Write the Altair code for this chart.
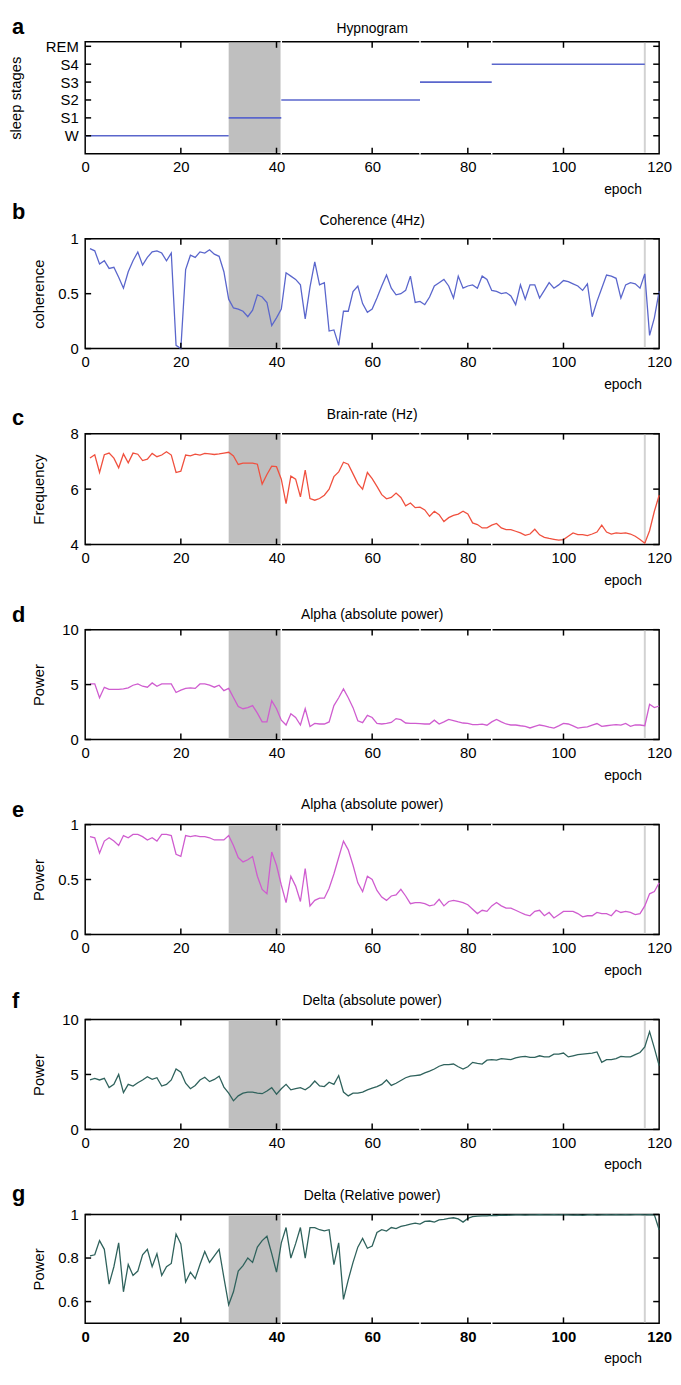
import json
import altair as alt
import pandas as pd

# ---------------- data ----------------
EPOCHS = list(range(1, 121))
X_TICKS = [0, 20, 40, 60, 80, 100, 120]

STAGE_NAMES = ["W", "S1", "S2", "S3", "S4", "REM"]
HYP_STAGE = ["W", "S1", "S2", "S3", "S4"]
HYP_START = [0, 30, 41, 70, 85]
HYP_END = [30, 41, 70, 85, 117]

BAND_START = [30]
BAND_END = [41]
STAGE_BREAKS = [41, 70, 85]
RECORD_END = [117]

coherence = [0.91, 0.89, 0.77, 0.80, 0.73, 0.74, 0.65, 0.55, 0.70, 0.80,
             0.88, 0.76, 0.83, 0.88, 0.89, 0.87, 0.80, 0.87, 0.03, 0.00,
             0.72, 0.85, 0.83, 0.88, 0.87, 0.90, 0.86, 0.84, 0.70, 0.45,
             0.37, 0.36, 0.34, 0.29, 0.35, 0.49, 0.47, 0.42, 0.21, 0.28,
             0.36, 0.69, 0.66, 0.63, 0.58, 0.27, 0.56, 0.79, 0.58, 0.60,
             0.16, 0.17, 0.03, 0.34, 0.34, 0.52, 0.57, 0.41, 0.33, 0.36,
             0.46, 0.57, 0.67, 0.55, 0.49, 0.50, 0.53, 0.66, 0.42, 0.43,
             0.40, 0.47, 0.57, 0.60, 0.63, 0.57, 0.46, 0.66, 0.55, 0.57,
             0.58, 0.55, 0.66, 0.63, 0.53, 0.52, 0.50, 0.51, 0.48, 0.40,
             0.58, 0.45, 0.58, 0.58, 0.46, 0.53, 0.60, 0.55, 0.58, 0.62,
             0.61, 0.59, 0.57, 0.53, 0.59, 0.29, 0.43, 0.55, 0.67, 0.66,
             0.64, 0.46, 0.58, 0.60, 0.59, 0.55, 0.68, 0.12, 0.28, 0.52]

brain_rate = [7.12, 7.24, 6.60, 7.24, 7.30, 7.12, 6.77, 7.27, 6.95, 7.30,
              7.26, 7.03, 7.08, 7.29, 7.17, 7.23, 7.35, 7.23, 6.60, 6.65,
              7.23, 7.20, 7.26, 7.23, 7.29, 7.27, 7.25, 7.27, 7.30, 7.33,
              7.20, 6.89, 6.94, 6.94, 6.94, 6.90, 6.18, 6.53, 6.83, 6.81,
              6.36, 5.48, 6.47, 6.36, 5.72, 6.69, 5.66, 5.60, 5.66, 5.78,
              6.00, 6.45, 6.62, 6.97, 6.90, 6.55, 6.20, 6.00, 6.60, 6.38,
              6.10, 5.80, 5.65, 5.70, 5.86, 5.70, 5.40, 5.50, 5.33, 5.35,
              5.25, 5.02, 5.20, 5.08, 4.83, 4.97, 5.05, 5.10, 5.20, 5.10,
              4.78, 4.72, 4.60, 4.60, 4.70, 4.76, 4.60, 4.54, 4.54, 4.48,
              4.42, 4.33, 4.38, 4.55, 4.35, 4.26, 4.22, 4.19, 4.16, 4.18,
              4.30, 4.42, 4.36, 4.36, 4.32, 4.38, 4.45, 4.70, 4.45, 4.38,
              4.42, 4.40, 4.42, 4.38, 4.30, 4.18, 4.05, 4.50, 5.20, 5.78]

alpha_abs = [5.06, 5.06, 3.80, 4.75, 4.56, 4.56, 4.56, 4.60, 4.70, 4.94,
             5.06, 4.85, 4.76, 5.15, 4.85, 5.06, 5.06, 5.06, 4.28, 4.50,
             4.65, 4.70, 4.65, 5.06, 5.06, 4.94, 4.76, 4.94, 4.45, 4.65,
             3.82, 3.00, 2.80, 2.90, 3.09, 2.40, 1.60, 1.60, 3.53, 2.80,
             1.76, 1.32, 2.35, 2.00, 1.32, 2.80, 1.18, 1.47, 1.41, 1.41,
             1.60, 3.09, 3.80, 4.60, 3.80, 2.90, 1.70, 1.53, 2.20, 2.00,
             1.47, 1.41, 1.47, 1.55, 1.90, 1.80, 1.50, 1.47, 1.47, 1.45,
             1.41, 1.41, 1.76, 1.41, 1.60, 1.82, 1.72, 1.60, 1.50, 1.47,
             1.35, 1.35, 1.40, 1.30, 1.60, 1.82, 1.60, 1.41, 1.32, 1.32,
             1.25, 1.20, 1.05, 1.20, 1.32, 1.25, 1.12, 1.03, 1.24, 1.47,
             1.41, 1.24, 1.03, 1.10, 1.15, 1.30, 1.45, 1.20, 1.25, 1.30,
             1.35, 1.30, 1.47, 1.20, 1.32, 1.32, 1.25, 3.20, 2.90, 3.05]

alpha_rel = [0.89, 0.88, 0.74, 0.85, 0.88, 0.85, 0.81, 0.90, 0.88, 0.91,
             0.91, 0.89, 0.86, 0.88, 0.85, 0.91, 0.91, 0.90, 0.73, 0.71,
             0.90, 0.89, 0.90, 0.89, 0.89, 0.88, 0.86, 0.86, 0.86, 0.90,
             0.81, 0.70, 0.66, 0.68, 0.71, 0.53, 0.41, 0.37, 0.75, 0.63,
             0.45, 0.29, 0.53, 0.44, 0.30, 0.60, 0.26, 0.31, 0.33, 0.33,
             0.42, 0.55, 0.70, 0.85, 0.77, 0.63, 0.47, 0.39, 0.53, 0.50,
             0.40, 0.34, 0.31, 0.35, 0.36, 0.41, 0.35, 0.28, 0.29, 0.29,
             0.28, 0.26, 0.27, 0.32, 0.26, 0.30, 0.31, 0.30, 0.29, 0.27,
             0.23, 0.19, 0.22, 0.21, 0.26, 0.29, 0.26, 0.24, 0.24, 0.22,
             0.20, 0.18, 0.17, 0.21, 0.22, 0.17, 0.20, 0.15, 0.18, 0.21,
             0.21, 0.21, 0.19, 0.16, 0.17, 0.17, 0.20, 0.19, 0.19, 0.17,
             0.22, 0.20, 0.21, 0.20, 0.18, 0.19, 0.26, 0.37, 0.39, 0.47]

delta_abs = [4.50, 4.65, 4.50, 4.65, 3.80, 4.10, 5.00, 3.35, 4.10, 3.95,
             4.25, 4.50, 4.80, 4.55, 4.70, 3.95, 4.10, 4.50, 5.50, 5.20,
             4.20, 3.70, 4.00, 4.50, 4.75, 4.35, 4.55, 4.85, 3.85, 3.30,
             2.60, 3.05, 3.30, 3.40, 3.40, 3.30, 3.25, 3.50, 3.80, 3.20,
             3.70, 4.10, 3.60, 3.70, 3.80, 3.60, 3.90, 4.40, 3.95, 3.90,
             4.30, 4.10, 4.90, 3.40, 3.05, 3.30, 3.30, 3.40, 3.60, 3.75,
             3.90, 4.10, 4.50, 4.00, 4.20, 4.45, 4.70, 4.85, 4.90, 4.95,
             5.15, 5.30, 5.50, 5.75, 5.90, 5.90, 5.95, 5.70, 5.50, 5.70,
             6.10, 6.00, 5.95, 6.30, 6.35, 6.30, 6.45, 6.40, 6.35, 6.50,
             6.60, 6.65, 6.55, 6.55, 6.70, 6.60, 6.60, 6.85, 6.85, 6.95,
             6.60, 6.70, 6.80, 6.85, 6.90, 6.95, 7.05, 6.10, 6.35, 6.35,
             6.45, 6.65, 6.60, 6.60, 6.80, 7.00, 7.50, 8.90, 7.40, 5.80]

delta_rel = [0.810, 0.815, 0.880, 0.840, 0.680, 0.760, 0.870, 0.645, 0.770, 0.720,
             0.740, 0.815, 0.840, 0.760, 0.820, 0.720, 0.760, 0.775, 0.910, 0.865,
             0.690, 0.735, 0.705, 0.770, 0.830, 0.780, 0.810, 0.840, 0.710, 0.585,
             0.645, 0.740, 0.765, 0.800, 0.780, 0.850, 0.880, 0.900, 0.820, 0.735,
             0.870, 0.940, 0.800, 0.866, 0.940, 0.800, 0.940, 0.940, 0.930, 0.925,
             0.930, 0.770, 0.870, 0.610, 0.700, 0.780, 0.850, 0.890, 0.845, 0.855,
             0.917, 0.930, 0.924, 0.940, 0.935, 0.945, 0.950, 0.956, 0.960, 0.956,
             0.968, 0.970, 0.965, 0.975, 0.978, 0.982, 0.985, 0.980, 0.965, 0.982,
             0.990, 0.992, 0.994, 0.994, 0.996, 0.995, 0.997, 0.996, 0.997, 0.998,
             0.998, 0.997, 0.998, 0.998, 0.999, 0.998, 0.998, 0.999, 0.998, 0.999,
             0.998, 0.997, 0.998, 0.996, 0.998, 0.999, 0.997, 0.998, 0.999, 0.998,
             0.999, 0.998, 0.999, 0.998, 0.999, 0.999, 0.998, 0.999, 0.998, 0.930]

# ---------------- style ----------------
W = 580
FONT = "'Liberation Sans Narrow', 'Arial Narrow', 'Liberation Sans', Arial, sans-serif"
BOLD_FONT = "'Liberation Sans', Arial, sans-serif"
BLUE = "#5a66cc"
RED = "#f0503e"
MAGENTA = "#cf5ccf"
TEAL = "#2f625c"

band_df = pd.DataFrame({"start": BAND_START, "end": BAND_END})
breaks_df = pd.DataFrame({"b": STAGE_BREAKS})
end_df = pd.DataFrame({"e": RECORD_END})
xt_df = pd.DataFrame({"t": X_TICKS[1:-1]})


def panel(letter, letter_dy, title, title_dy, height, main_df, main_kind, color,
          ydomain, yticks, ytitle, ytitle_x, label_expr=None, bold_labels=False):
    xscale = alt.Scale(domain=[0, 120], nice=False, zero=False)
    yscale = alt.Scale(domain=ydomain, nice=False, zero=False)
    xaxis = alt.Axis(values=X_TICKS, ticks=False, domain=False, grid=False,
                     labelFont=FONT, labelFontSize=15, labelPadding=6,
                     labelColor="black", labelFlush=False, labelOverlap=False,
                     labelFontWeight="bold" if bold_labels else "normal",
                     title="epoch", titleFont=FONT, titleFontSize=14,
                     titleFontWeight="normal", titleColor="black",
                     titleX=W - 37, titleY=36, titleAlign="center",
                     titleBaseline="middle")
    yargs = dict(values=yticks, ticks=False, domain=False, grid=False,
                 labelFont=FONT, labelFontSize=15, labelPadding=7,
                 labelColor="black", labelOverlap=False, labelFlush=False,
                 title=ytitle, titleFont=FONT, titleFontSize=15,
                 titleFontWeight="normal", titleColor="black",
                 titleX=ytitle_x, titleY=height / 2, titleAngle=270,
                 titleAlign="center", titleBaseline="middle")
    if label_expr is not None:
        yargs["labelExpr"] = label_expr
    else:
        yargs["format"] = "~r"
    yaxis = alt.Axis(**yargs)

    def X(field):
        return alt.X(field, scale=xscale, axis=xaxis)

    def Y(field):
        return alt.Y(field, scale=yscale, axis=yaxis)

    band = alt.Chart(band_df).mark_rect(color="#bfbfbf").encode(
        x=X("start:Q"), x2="end:Q",
        y=alt.value(1), y2=alt.value(height - 1))
    brk = alt.Chart(breaks_df).mark_rule(color="white", strokeWidth=1.5).encode(
        x=X("b:Q"), y=alt.value(-1), y2=alt.value(height + 1))
    endl = alt.Chart(end_df).mark_rule(color="#d2d2d2", strokeWidth=2).encode(
        x=X("e:Q"), y=alt.value(1), y2=alt.value(height - 1))

    if main_kind == "hyp":
        main = alt.Chart(main_df).mark_rule(color=color, strokeWidth=1.6).encode(
            x=X("start:Q"), x2="end:Q", y=Y("level:Q"))
    else:
        main = alt.Chart(main_df).mark_line(color=color, strokeWidth=1.3).encode(
            x=X("epoch:Q"), y=Y("value:Q"))

    tick_style = dict(color="black", strokeWidth=1.5)
    xt_b = alt.Chart(xt_df).mark_rule(**tick_style).encode(
        x=X("t:Q"), y=alt.value(height), y2=alt.value(height - 6))
    xt_t = alt.Chart(xt_df).mark_rule(**tick_style).encode(
        x=X("t:Q"), y=alt.value(0), y2=alt.value(6))
    yt_df = pd.DataFrame({"t": yticks})
    yt_l = alt.Chart(yt_df).mark_rule(**tick_style).encode(
        y=Y("t:Q"), x=alt.value(0), x2=alt.value(6))
    yt_r = alt.Chart(yt_df).mark_rule(**tick_style).encode(
        y=Y("t:Q"), x=alt.value(W - 6), x2=alt.value(W))

    let = alt.Chart(pd.DataFrame({"l": [letter]})).mark_text(
        font=BOLD_FONT, fontSize=22, fontWeight="bold", align="left",
        baseline="alphabetic", color="black").encode(
        x=alt.value(-74), y=alt.value(letter_dy), text="l:N")
    ttl = alt.Chart(pd.DataFrame({"l": [title]})).mark_text(
        font=FONT, fontSize=14, align="center", baseline="middle",
        color="black").encode(
        x=alt.value(W / 2), y=alt.value(title_dy), text="l:N")

    return alt.layer(band, brk, endl, main, xt_b, xt_t, yt_l, yt_r, let, ttl).properties(
        width=W, height=height)


hyp_df = pd.DataFrame({"stage": HYP_STAGE, "start": HYP_START, "end": HYP_END,
                       "level": [STAGE_NAMES.index(s) for s in HYP_STAGE]})
stage_expr = json.dumps(STAGE_NAMES) + "[datum.value]"


def series(vals):
    return pd.DataFrame({"epoch": EPOCHS, "value": vals})


panels = [
    panel("a", -8, "Hypnogram", -13, 113, hyp_df, "hyp", BLUE,
          [-1, 5.25], [0, 1, 2, 3, 4, 5], "sleep stages", -70, label_expr=stage_expr),
    panel("b", -20, "Coherence (4Hz)", -18, 111, series(coherence), "line", BLUE,
          [0, 1], [0, 0.5, 1], "coherence", -47),
    panel("c", -9, "Brain-rate (Hz)", -19, 112, series(brain_rate), "line", RED,
          [4, 8], [4, 6, 8], "Frequency", -47),
    panel("d", -8, "Alpha (absolute power)", -15, 111, series(alpha_abs), "line", MAGENTA,
          [0, 10], [0, 5, 10], "Power", -47),
    panel("e", -8, "Alpha (absolute power)", -20, 111, series(alpha_rel), "line", MAGENTA,
          [0, 1], [0, 0.5, 1], "Power", -47),
    panel("f", -12, "Delta (absolute power)", -19, 111, series(delta_abs), "line", TEAL,
          [0, 10], [0, 5, 10], "Power", -47),
    panel("g", -14, "Delta (Relative power)", -19, 110, series(delta_rel), "line", TEAL,
          [0.5, 1], [0.6, 0.8, 1], "Power", -47, bold_labels=True),
]

chart = alt.vconcat(*panels, spacing=86, bounds="flush").properties(
    padding={"left": 0, "top": 0, "right": 0, "bottom": 0}
).configure_view(stroke="black", strokeWidth=1.5)

chart.save("out.html", embed_options={"renderer": "svg", "actions": False})
